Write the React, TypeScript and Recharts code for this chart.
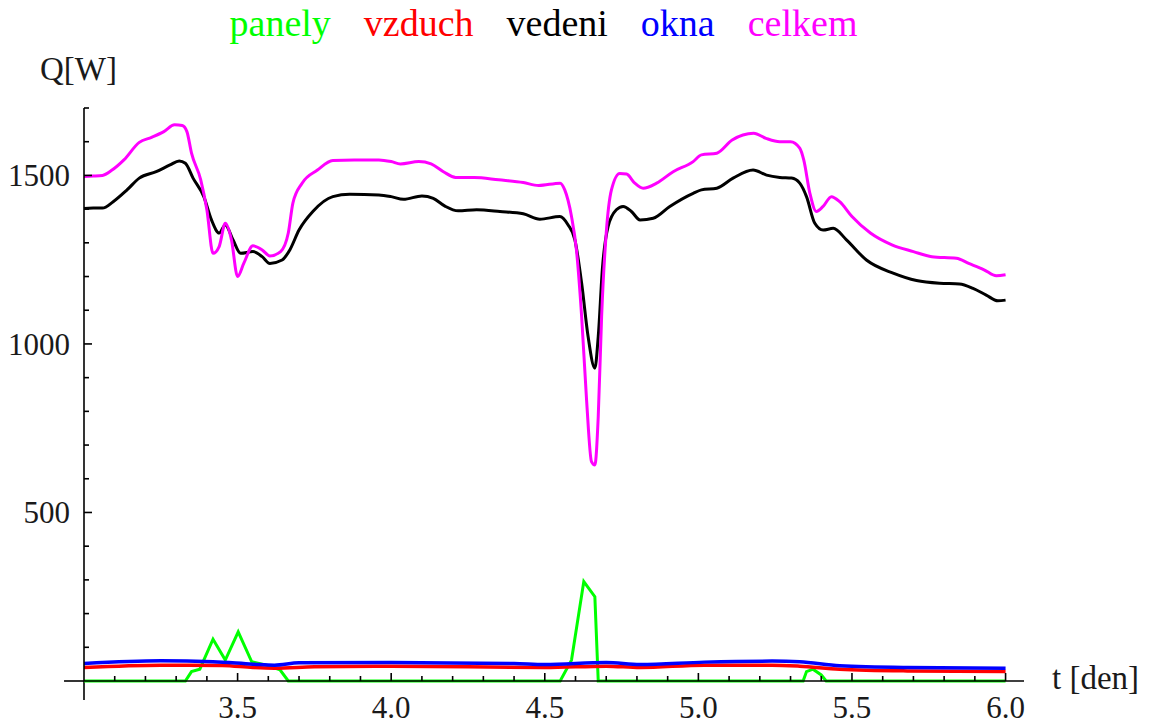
import React from 'react';
import { LineChart, Line, XAxis, YAxis, Legend, ReferenceLine } from 'recharts';

// [t (den), Q (W)]
const panely: [number, number][] = [
  [3.0, 0], [3.33, 0], [3.35, 28], [3.377, 35], [3.42, 124], [3.46, 62], [3.502, 146],
  [3.546, 57], [3.594, 47], [3.638, 33], [3.665, 0], [4.55, 0], [4.587, 62], [4.627, 295],
  [4.663, 250], [4.674, 0], [5.341, 0], [5.352, 28], [5.373, 35], [5.4, 18], [5.416, 0], [6.0, 0],
];

const vzduch: [number, number][] = [
  [3.0, 40], [3.25, 47], [3.45, 46], [3.55, 40], [3.62, 38], [3.75, 42], [4.0, 44], [4.5, 40],
  [4.7, 44], [4.81, 40], [5.02, 47], [5.24, 47], [5.33, 44], [5.46, 35], [5.68, 30], [6.0, 28],
];

const vedeni: [number, number][] = [
  [3.0, 1402], [3.03, 1403], [3.06, 1403], [3.095, 1422], [3.14, 1457], [3.18, 1492],
  [3.235, 1511], [3.28, 1531], [3.31, 1543], [3.33, 1536], [3.355, 1492], [3.39, 1437],
  [3.415, 1368], [3.44, 1329], [3.46, 1353], [3.485, 1309], [3.51, 1269], [3.55, 1274],
  [3.58, 1259], [3.605, 1239], [3.645, 1249], [3.67, 1279], [3.7, 1338], [3.745, 1393],
  [3.81, 1437], [3.865, 1444], [3.96, 1442], [4.0, 1437], [4.04, 1429], [4.1, 1439],
  [4.137, 1432], [4.175, 1409], [4.218, 1395], [4.278, 1398], [4.354, 1393], [4.43, 1386],
  [4.484, 1370], [4.549, 1378], [4.576, 1353], [4.598, 1309], [4.62, 1180], [4.641, 1022],
  [4.663, 928], [4.674, 1022], [4.688, 1229], [4.706, 1348], [4.733, 1398], [4.755, 1408],
  [4.782, 1393], [4.81, 1368], [4.853, 1373], [4.907, 1408], [4.983, 1447], [5.01, 1457],
  [5.06, 1462], [5.113, 1492], [5.178, 1516], [5.222, 1501], [5.265, 1494], [5.303, 1492],
  [5.33, 1477], [5.352, 1437], [5.379, 1358], [5.406, 1338], [5.439, 1343], [5.482, 1309],
  [5.547, 1249], [5.634, 1210], [5.71, 1188], [5.785, 1180], [5.85, 1178], [5.894, 1165],
  [5.937, 1145], [5.975, 1128], [6.0, 1130],
];

const okna: [number, number][] = [
  [3.0, 52], [3.25, 60], [3.42, 57], [3.55, 50], [3.62, 47], [3.7, 54], [4.0, 55], [4.4, 52],
  [4.5, 49], [4.7, 55], [4.81, 49], [5.02, 56], [5.24, 59], [5.33, 57], [5.46, 45], [5.68, 40],
  [6.0, 38],
];

const celkem: [number, number][] = [
  [3.0, 1497], [3.03, 1498], [3.06, 1500], [3.09, 1515], [3.13, 1546], [3.18, 1598],
  [3.22, 1613], [3.26, 1630], [3.295, 1650], [3.32, 1648], [3.335, 1630], [3.35, 1566],
  [3.38, 1487], [3.4, 1398], [3.42, 1269], [3.44, 1289], [3.46, 1358], [3.48, 1309],
  [3.5, 1200], [3.52, 1239], [3.55, 1291], [3.58, 1279], [3.605, 1261], [3.64, 1274],
  [3.665, 1329], [3.68, 1418], [3.71, 1477], [3.76, 1516], [3.81, 1544], [3.88, 1546],
  [3.96, 1546], [4.0, 1541], [4.03, 1534], [4.09, 1541], [4.13, 1534], [4.17, 1511],
  [4.21, 1494], [4.27, 1494], [4.35, 1487], [4.43, 1479], [4.48, 1470], [4.55, 1477],
  [4.565, 1457], [4.587, 1378], [4.603, 1279], [4.62, 1081], [4.636, 834], [4.652, 651],
  [4.663, 641], [4.674, 784], [4.685, 1081], [4.7, 1329], [4.717, 1457], [4.744, 1506],
  [4.766, 1504], [4.793, 1477], [4.82, 1462], [4.864, 1477], [4.918, 1511], [4.983, 1541],
  [5.01, 1561], [5.06, 1566], [5.11, 1605], [5.18, 1625], [5.22, 1610], [5.265, 1600],
  [5.3, 1600], [5.33, 1581], [5.343, 1546], [5.363, 1447], [5.384, 1393], [5.406, 1408],
  [5.433, 1437], [5.46, 1422], [5.5, 1378], [5.56, 1329], [5.63, 1294], [5.7, 1274],
  [5.76, 1259], [5.84, 1254], [5.88, 1239], [5.93, 1220], [5.97, 1202], [6.0, 1205],
];

const xMajorTicks = [3.5, 4.0, 4.5, 5.0, 5.5, 6.0];
const xMinorTicks = [
  3.1, 3.2, 3.3, 3.4, 3.6, 3.7, 3.8, 3.9, 4.1, 4.2, 4.3, 4.4, 4.6, 4.7, 4.8, 4.9,
  5.1, 5.2, 5.3, 5.4, 5.6, 5.7, 5.8, 5.9,
];
const yMajorTicks = [500, 1000, 1500];
const yMinorTicks = [100, 200, 300, 400, 600, 700, 800, 900, 1100, 1200, 1300, 1400, 1600, 1700];

const FONT = '"Liberation Serif", "Times New Roman", serif';

const series = [
  { name: 'panely', color: '#00ff00', width: 3, type: 'linear', pts: panely },
  { name: 'vzduch', color: '#ff0000', width: 3.5, type: 'monotone', pts: vzduch },
  { name: 'vedeni', color: '#000000', width: 3, type: 'monotone', pts: vedeni },
  { name: 'okna', color: '#0000ff', width: 3.5, type: 'monotone', pts: okna },
  { name: 'celkem', color: '#ff00ff', width: 3, type: 'monotone', pts: celkem },
];

const toPts = (a: [number, number][]) => a.map(([t, q]) => ({ t, q }));
const isMajor = (v: number, list: number[]) => list.some((m) => Math.abs(m - v) < 1e-6);

const XTick = (props: any) => {
  const { x, y, payload } = props;
  const major = isMajor(payload.value, xMajorTicks);
  return (
    <g>
      <line x1={x} x2={x} y1={y} y2={y - (major ? 8 : 5)} stroke="#000" strokeWidth={1.6} />
      {major && (
        <text x={x} y={y + 37} textAnchor="middle" fontFamily={FONT} fontSize={31} fill="#1a1a1a">
          {payload.value.toFixed(1)}
        </text>
      )}
    </g>
  );
};

const YTick = (props: any) => {
  const { x, y, payload } = props;
  const major = isMajor(payload.value, yMajorTicks);
  return (
    <g>
      <line x1={x} x2={x + (major ? 8 : 5)} y1={y} y2={y} stroke="#000" strokeWidth={1.6} />
      {major && (
        <text x={x - 14} y={y + 11} textAnchor="end" fontFamily={FONT} fontSize={31} fill="#1a1a1a">
          {payload.value}
        </text>
      )}
    </g>
  );
};

const LegendRow = (props: any) => {
  const order = series.map((s) => s.name);
  const items = [...(props.payload || [])].sort(
    (a: any, b: any) => order.indexOf(a.value) - order.indexOf(b.value)
  );
  return (
    <div style={{ display: 'flex', justifyContent: 'center', gap: 33, fontFamily: FONT, fontSize: 38 }}>
      {items.map((p: any) => (
        <span key={p.value} style={{ color: p.color, fontFamily: FONT }}>{p.value}</span>
      ))}
    </div>
  );
};

export default function App() {
  return (
    <div style={{ position: 'absolute', left: 0, top: 0, width: 1151, height: 725, background: '#fff' }}>
      <LineChart width={1151} height={725} margin={{ top: 108, right: 127, bottom: 43, left: 83 }}>
        <XAxis
          dataKey="t"
          type="number"
          domain={[3, 6.06]}
          ticks={[...xMinorTicks, ...xMajorTicks].sort((a, b) => a - b)}
          interval={0}
          height={1}
          tickSize={0}
          tickMargin={0}
          tickLine={false}
          tick={<XTick />}
          axisLine={{ stroke: '#000', strokeWidth: 1.6 }}
        />
        <YAxis
          type="number"
          domain={[0, 1700]}
          ticks={[...yMinorTicks, ...yMajorTicks].sort((a, b) => a - b)}
          interval={0}
          width={1}
          tickSize={0}
          tickMargin={0}
          tickLine={false}
          tick={<YTick />}
          axisLine={{ stroke: '#000', strokeWidth: 1.6 }}
        />
        <ReferenceLine segment={[{ x: 2.935, y: 0 }, { x: 3, y: 0 }]} stroke="#000" strokeWidth={1.6} ifOverflow="visible" />
        <ReferenceLine segment={[{ x: 3, y: -56 }, { x: 3, y: 0 }]} stroke="#000" strokeWidth={1.6} ifOverflow="visible" />
        <Legend
          verticalAlign="middle"
          align="center"
          content={<LegendRow />}
          wrapperStyle={{ top: 1, left: 0, width: 1087, fontFamily: FONT }}
        />
        {series.map((s) => (
          <Line
            key={s.name}
            data={toPts(s.pts)}
            dataKey="q"
            name={s.name}
            type={s.type as any}
            stroke={s.color}
            strokeWidth={s.width}
            dot={false}
            activeDot={false}
            isAnimationActive={false}
          />
        ))}
      </LineChart>
      <div style={{ position: 'absolute', left: 40, top: 51, fontFamily: FONT, fontSize: 33, color: '#1a1a1a' }}>Q[W]</div>
      <div style={{ position: 'absolute', left: 1052, top: 660, fontFamily: FONT, fontSize: 33, color: '#1a1a1a' }}>t [den]</div>
    </div>
  );
}
